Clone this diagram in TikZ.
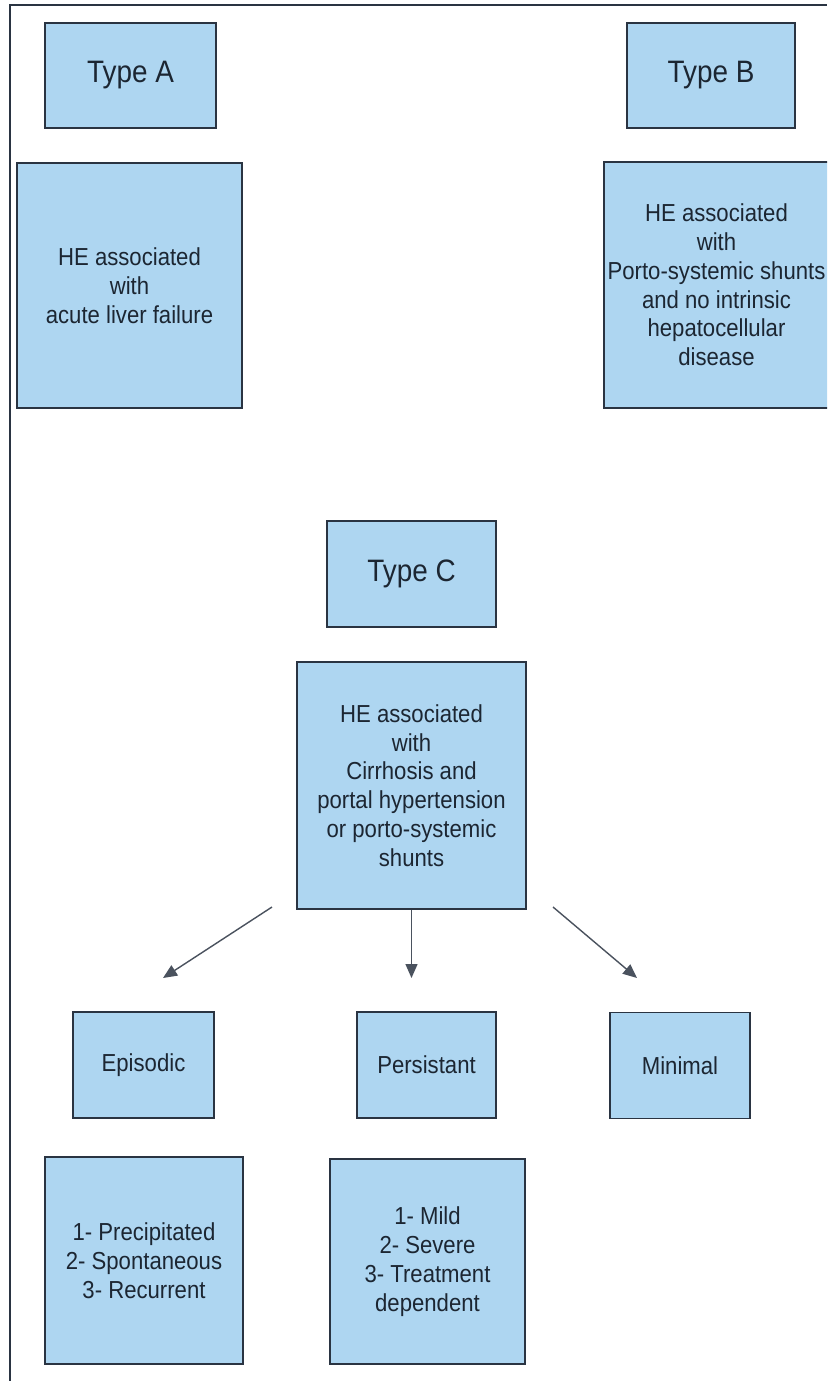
\documentclass[tikz,border=0pt]{standalone}
\usepackage{fontspec}
\setmainfont{Liberation Sans}[FakeStretch=0.9]
\usetikzlibrary{arrows.meta}
\definecolor{boxfill}{RGB}{174,214,241}
\definecolor{boxline}{RGB}{42,52,66}
\definecolor{txt}{RGB}{28,38,50}

\begin{document}
\begin{tikzpicture}[x=1pt,y=-1pt,
    box/.style={draw=boxline,fill=boxfill,line width=1.7pt,inner sep=0pt,align=center,text=txt},
    big/.style={font=\fontsize{31}{35}\selectfont},
    small/.style={font=\fontsize{24.6}{28.8}\selectfont},
    arr/.style={draw=boxline!85,line width=1.4pt,-{Triangle[length=14pt,width=12pt]}}]
    \useasboundingbox (0,0) rectangle (827,1381);
    \clip (0,0) rectangle (827,1381);
    \fill[white] (0,0) rectangle (827,1381);
    \draw[boxline,line width=1.7pt] (10,1381) -- (10,5) -- (827,5);

    % the three types
    \node[box,big,minimum width=171pt,minimum height=105pt] (typeA) at (130.5,75.5) {Type A};
    \node[box,small,minimum width=225pt,minimum height=245pt] (heA) at (129.5,285.5) {HE associated\\with\\acute liver failure};
    \node[box,big,minimum width=168pt,minimum height=105pt] (typeB) at (711,75.5) {Type B};
    \node[box,minimum width=250pt,minimum height=246pt] (heB) at (729,285) {};
    \node[small,text=txt,align=center,inner sep=0pt] (heBtext) at (716.5,285) {HE associated\\with\\Porto-systemic shunts\\and no intrinsic\\hepatocellular\\disease};
    \node[box,big,minimum width=169pt,minimum height=106pt] (typeC) at (411.5,574) {Type C};
    \node[box,small,minimum width=229pt,minimum height=247pt] (heC) at (411.5,785.5) {HE associated\\with\\Cirrhosis and\\portal hypertension\\or porto-systemic\\shunts};

    % subtypes of type C
    \node[box,small,minimum width=141pt,minimum height=106pt] (episodic) at (143.5,1065) {Episodic};
    \node[box,small,minimum width=139pt,minimum height=106pt] (persistant) at (426.5,1065) {Persistant};
    \node[box,small,minimum width=140pt,minimum height=106pt] (minimal) at (680,1065.5) {Minimal};
    \node[box,small,minimum width=198pt,minimum height=207pt] (epiList) at (144,1260.5) {1- Precipitated\\2- Spontaneous\\3- Recurrent};
    \node[box,small,minimum width=195pt,minimum height=205pt] (perList) at (427.5,1261.5) {1- Mild\\2- Severe\\3- Treatment\\dependent};

    \coordinate (epiFrom) at (272,907);
    \coordinate (epiTip) at (163,978);
    \coordinate (perTip) at (411.5,978);
    \coordinate (minFrom) at (553,907);
    \coordinate (minTip) at (637,978);
    \draw[arr] (epiFrom) -- (epiTip);
    \draw[arr] (heC.south) -- (perTip);
    \draw[arr] (minFrom) -- (minTip);
\end{tikzpicture}
\end{document}
